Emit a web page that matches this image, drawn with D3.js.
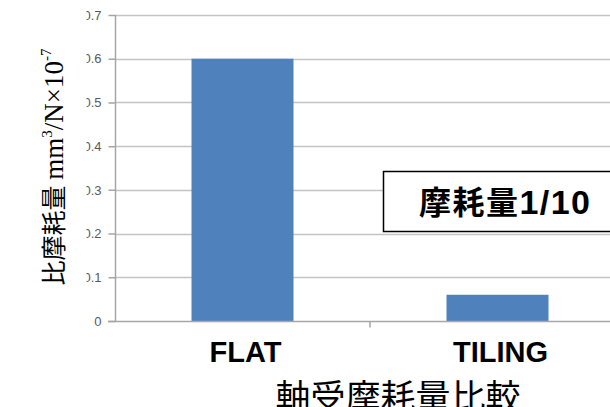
<!doctype html>
<meta charset=utf8>
<title>軸受摩耗量比較</title>
<style>
  body { margin: 0; background: white; }
  svg { display: block; }
</style>
<svg width=610 height=407></svg>
<script src=https://cdn.jsdelivr.net/npm/d3@7></script>
<script>
  var categories = ['FLAT', 'TILING'];
  var values = [0.6, 0.06];
  var yTicks = [0, 0.1, 0.2, 0.3, 0.4, 0.5, 0.6, 0.7];
  var yTickLabels = ['0', '0.1', '0.2', '0.3', '0.4', '0.5', '0.6', '0.7'];

  var svg = d3.select('svg');
  var plotLeft = 115, plotRight = 625, plotTop = 15, plotBottom = 321;

  var x = d3.scaleBand().domain(categories).range([plotLeft, plotRight]);
  var y = d3.scaleLinear().domain([0, 0.7]).range([plotBottom, plotTop]);

  // gridlines
  svg.append('g').selectAll('line').data(yTicks.slice(1)).enter().append('line')
    .attr('x1', plotLeft).attr('x2', plotRight)
    .attr('y1', function (d) { return Math.round(y(d)) + 0.5; })
    .attr('y2', function (d) { return Math.round(y(d)) + 0.5; })
    .attr('stroke', '#c4c4c4').attr('stroke-width', 1.5);

  // bars
  svg.append('g').selectAll('rect').data(values).enter().append('rect')
    .attr('x', function (d, i) { return x(categories[i]) + x.bandwidth() * 0.3; })
    .attr('width', x.bandwidth() * 0.4)
    .attr('y', function (d) { return y(d); })
    .attr('height', function (d) { return y(0) - y(d); })
    .attr('fill', '#4f81bd');

  // y axis; leading zero of labels is cut off in the picture
  svg.append('defs').append('clipPath').attr('id', 'cut')
    .append('rect').attr('x', 86 - plotLeft).attr('y', -50).attr('width', 1000).attr('height', 500);

  var yAxis = d3.axisLeft(y).tickValues(yTicks)
    .tickFormat(function (d, i) { return yTickLabels[i]; }).tickSize(7).tickPadding(7);
  var gy = svg.append('g').attr('transform', 'translate(' + (plotLeft + 0.5) + ',0)')
    .attr('clip-path', 'url(#cut)').call(yAxis);
  gy.select('.domain').attr('stroke', '#a6a6a6').attr('stroke-width', 1.5)
    .attr('d', 'M0,' + plotTop + 'V' + plotBottom);
  gy.selectAll('.tick line').attr('stroke', '#a6a6a6').attr('stroke-width', 1.5);
  gy.selectAll('.tick text').attr('fill', '#595959')
    .attr('font-family', 'Liberation Sans, Arial, sans-serif').attr('font-size', 13);

  // x axis
  var xAxis = d3.axisBottom(x).tickSize(0).tickPadding(20);
  var gx = svg.append('g').attr('transform', 'translate(0,' + (plotBottom + 0.5) + ')').call(xAxis);
  gx.select('.domain').attr('stroke', '#a6a6a6').attr('stroke-width', 1.5)
    .attr('d', 'M' + (plotLeft - 7) + ',0H' + plotRight);
  gx.selectAll('.tick text').attr('fill', '#000')
    .attr('font-family', 'Liberation Sans, Arial, sans-serif')
    .attr('font-size', 29).attr('font-weight', 'bold').attr('dx', 3);
  gx.selectAll('.sep').data(categories.slice(1)).enter().append('line')
    .attr('x1', function (d) { return x(d); }).attr('x2', function (d) { return x(d); })
    .attr('y1', 0).attr('y2', 6).attr('stroke', '#a6a6a6').attr('stroke-width', 1.5);

  // axis titles
  var yt = svg.append('text').attr('transform', 'translate(63,167) rotate(-90)')
    .attr('text-anchor', 'middle').attr('font-family', 'Liberation Serif, Times New Roman, serif')
    .attr('font-size', 27).attr('fill', '#000');
  yt.append('tspan').attr('font-family', 'Noto Sans CJK JP').attr('font-size', 25).text('比摩耗量 ');
  yt.append('tspan').text('mm');
  yt.append('tspan').attr('dy', -11).attr('font-size', 15).text('3');
  yt.append('tspan').attr('dy', 11).text('/N×10');
  yt.append('tspan').attr('dy', -12).attr('font-size', 15).text('-7');

  svg.append('text').attr('x', 398).attr('y', 410).attr('text-anchor', 'middle')
    .attr('font-family', 'Noto Sans CJK JP').attr('font-size', 35).attr('fill', '#000')
    .text('軸受摩耗量比較');

  // annotation box
  svg.append('rect').attr('x', 383.5).attr('y', 171.5).attr('width', 240).attr('height', 60)
    .attr('fill', 'white').attr('stroke', '#000').attr('stroke-width', 1.5);
  var note = svg.append('text').attr('x', 419).attr('y', 214)
    .attr('textLength', 171).attr('lengthAdjust', 'spacing')
    .attr('font-family', 'Liberation Sans, Arial, sans-serif').attr('font-size', 34).attr('font-weight', 'bold');
  note.append('tspan').attr('font-family', 'Noto Sans CJK JP').attr('font-size', 32).text('摩耗量');
  note.append('tspan').text('1/10');
</script>
